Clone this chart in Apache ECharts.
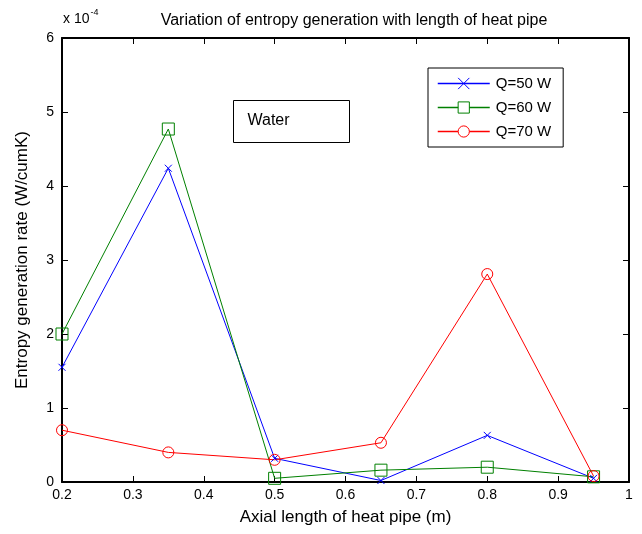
<!DOCTYPE html>
<html>
<head>
<meta charset="utf-8">
<script src="https://cdn.jsdelivr.net/npm/echarts@6/dist/echarts.min.js"></script>
<style>html,body{margin:0;padding:0;background:#fff;}#c{width:642px;height:534px;}</style>
</head>
<body>
<div id="c"></div>
<script>
var xValues = [0.2, 0.35, 0.5, 0.65, 0.8, 0.95];
var q50 = [1.55, 4.24, 0.32, 0.02, 0.63, 0.05];
var q60 = [2.0, 4.77, 0.05, 0.16, 0.2, 0.07];
var q70 = [0.7, 0.4, 0.3, 0.53, 2.81, 0.08];
var seriesNames = ['Q=50 W', 'Q=60 W', 'Q=70 W'];
var seriesColors = ['#0000ff', '#008000', '#ff0000'];
var xTicks = [0.2, 0.3, 0.4, 0.5, 0.6, 0.7, 0.8, 0.9, 1];
var yTicks = [0, 1, 2, 3, 4, 5, 6];

function pairs(ys) { return xValues.map(function (x, i) { return [x, ys[i]]; }); }

var font = 'Liberation Sans, Arial, sans-serif';
var chart = echarts.init(document.getElementById('c'));
var axisCommon = {
  axisLine: { show: true, onZero: false, lineStyle: { color: '#000', width: 2 } },
  axisTick: { show: true, inside: true, length: 6, lineStyle: { color: '#000', width: 1 } },
  splitLine: { show: false }
};
function mk(name, data, color, symbol, size) {
  return {
    name: name, type: 'line', data: pairs(data),
    symbol: symbol, symbolSize: size,
    lineStyle: { color: color, width: 1 },
    itemStyle: { color: 'rgba(0,0,0,0)', borderColor: color, borderWidth: 1 },
    emphasis: { disabled: true },
    animation: false
  };
}
chart.setOption({
  animation: false,
  backgroundColor: '#fff',
  title: {
    text: 'Variation of entropy generation with length of heat pipe',
    left: 349, top: 8, textAlign: 'center',
    textStyle: { fontFamily: font, fontSize: 16, fontWeight: 'normal', color: '#000' }
  },
  grid: { left: 62, right: 13, top: 38, bottom: 52 },
  legend: {
    orient: 'vertical', left: 428, top: 68,
    padding: [8, 12, 8, 9], itemGap: 9,
    borderColor: '#000', borderWidth: 1, backgroundColor: '#fff',
    itemWidth: 52, itemHeight: 14,
    textStyle: { fontFamily: font, fontSize: 15, color: '#000', padding: [0, 0, 0, 1] },
    data: seriesNames.map(function (n, i) {
      return { name: n,
        lineStyle: { color: seriesColors[i], width: 1.5, opacity: 1 },
        itemStyle: { color: '#ffffff', borderColor: seriesColors[i], borderWidth: 1 } };
    })
  },
  xAxis: [
    Object.assign({
      type: 'value', min: 0.2, max: 1, interval: 0.1,
      name: 'Axial length of heat pipe (m)', nameLocation: 'middle', nameGap: 27,
      nameTextStyle: { fontFamily: font, fontSize: 17, color: '#000' },
      axisLabel: { color: '#000', fontFamily: font, fontSize: 14, margin: 6,
        formatter: function (v) { return String(Math.round(v * 10) / 10); } }
    }, axisCommon),
    Object.assign({
      type: 'value', min: 0.2, max: 1, interval: 0.1, position: 'top',
      axisLabel: { show: false }
    }, axisCommon)
  ],
  yAxis: [
    Object.assign({
      type: 'value', min: 0, max: 6, interval: 1,
      name: 'Entropy generation rate (W/cumK)', nameLocation: 'middle', nameGap: 31,
      nameTextStyle: { fontFamily: font, fontSize: 17, color: '#000' },
      axisLabel: { color: '#000', fontFamily: font, fontSize: 14, margin: 8,
        formatter: function (v) { return yTicks.indexOf(v) >= 0 ? String(v) : ''; } }
    }, axisCommon),
    Object.assign({
      type: 'value', min: 0, max: 6, interval: 1, position: 'right',
      axisLabel: { show: false }
    }, axisCommon)
  ],
  graphic: [
    {
      type: 'text', left: 63, top: 8,
      style: {
        text: '{a|x 10}{b|-4}',
        rich: {
          a: { fontFamily: font, fontSize: 14, fill: '#000', verticalAlign: 'bottom' },
          b: { fontFamily: font, fontSize: 9, fill: '#000', verticalAlign: 'top', padding: [0, 0, 9, 1] }
        }
      }
    },
    {
      type: 'group', left: 233, top: 100,
      children: [
        { type: 'rect', shape: { x: 0, y: 0, width: 116, height: 42 },
          style: { fill: '#fff', stroke: '#000', lineWidth: 1 } },
        { type: 'text', x: 14, y: 12,
          style: { text: 'Water', fontFamily: font, fontSize: 16, fill: '#000' } }
      ]
    }
  ],
  series: [
    mk(seriesNames[0], q50, seriesColors[0], 'path://M0,0L10,10M10,0L0,10', 7),
    mk(seriesNames[1], q60, seriesColors[1], 'rect', 12),
    mk(seriesNames[2], q70, seriesColors[2], 'circle', 11)
  ]
});
</script>
</body>
</html>
